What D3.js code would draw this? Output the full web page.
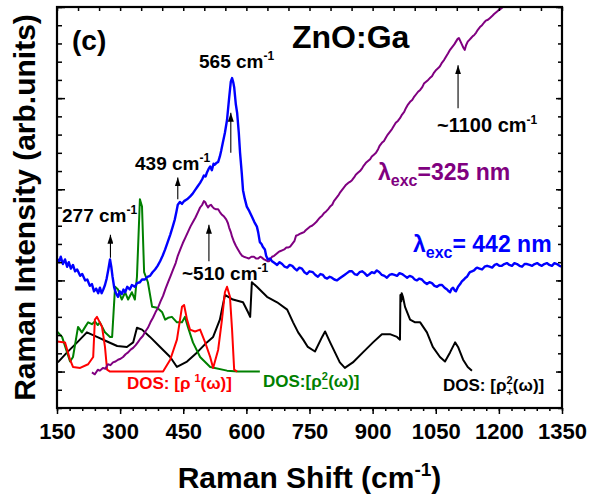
<!DOCTYPE html>
<html>
<head>
<meta charset="utf-8">
<script src="https://cdn.jsdelivr.net/npm/d3@7"></script>
<style>
  body { margin: 0; background: #fff; }
  text { font-family: "Liberation Sans", Arial, sans-serif; font-weight: bold; }
</style>
</head>
<body>
<svg id="chart"></svg>
<script>
// Raman spectra, [shift (cm-1), intensity (arb.)]
const spec442 = [[150,124],[155,120],[159,126],[164,118],[169,123],[174,115],[178,120],[183,113],[188,117],[193,110],[198,112],[205,105],[210,107],[217,100],[222,101],[228,94],[233,96],[238,88],[243,91],[248,86],[252,92],[256,86],[260,90],[264,95],[268,102],[272,112],[276,123],[279,115],[282,104],[286,92],[290,86],[295,82],[299,88],[304,85],[308,90],[312,87],[317,93],[323,90],[328,95],[335,93],[340,97],[347,98],[352,101],[359,101],[365,104],[371,105],[377,109],[383,112],[389,116],[395,121],[401,127],[407,134],[413,142],[419,150],[425,159],[430,167],[434,176],[437,183],[442,186],[447,184],[452,187],[459,189],[466,192],[472,195],[478,199],[484,203],[490,207],[495,211],[499,215],[503,214],[506,218],[510,222],[514,225],[518,221],[522,228],[525,227],[529,229],[533,230],[537,236],[540,242],[544,251],[549,262],[554,276],[559,300],[563,318],[566,322],[569,317],[571,312],[575,293],[578,284],[582,262],[585,240],[589,218],[592,199],[596,190],[601,181],[607,176],[613,170],[619,164],[625,159],[628,153],[632,142],[636,140],[639,137],[644,134],[647,127],[651,123],[656,124],[661,121],[667,119],[673,117],[679,120],[685,118],[691,115],[697,114],[703,117],[709,116],[715,113],[720,111],[726,114],[732,113],[738,109],[744,107],[750,110],[758,109],[764,106],[770,104],[776,107],[782,106],[787,103],[792,102],[798,104],[803,103],[809,101],[815,100],[821,102],[827,104],[833,106],[839,108],[845,110],[851,110],[857,107],[863,106],[869,109],[875,110],[881,108],[887,105],[893,107],[898,109],[904,108],[910,111],[916,109],[922,106],[928,105],[934,103],[940,106],[946,107],[952,106],[958,105],[964,108],[970,107],[976,105],[982,103],[988,105],[994,104],[1000,101],[1005,100],[1011,102],[1017,101],[1023,98],[1029,96],[1035,98],[1041,97],[1047,94],[1053,93],[1059,95],[1065,95],[1071,92],[1077,90],[1081,88],[1084,87],[1088,91],[1091,92],[1095,89],[1098,88],[1103,93],[1108,96],[1112,99],[1117,101],[1121,103],[1124,104],[1128,107],[1131,109],[1136,110],[1141,111],[1145,113],[1148,114],[1154,113],[1160,112],[1166,115],[1172,116],[1178,115],[1184,114],[1190,117],[1195,118],[1201,116],[1207,116],[1213,118],[1219,119],[1225,117],[1231,116],[1237,119],[1243,118],[1249,116],[1255,115],[1261,118],[1267,118],[1273,117],[1279,116],[1285,118],[1291,119],[1297,117],[1302,116],[1308,118],[1314,119],[1320,117],[1326,116],[1332,119],[1338,118],[1344,116],[1350,115]];

const spec325 = [[233,-1],[240,-3],[247,2],[252,1],[259,4],[265,3],[271,8],[277,7],[283,10],[289,11],[295,13],[301,14],[307,16],[313,19],[319,21],[325,24],[331,26],[337,29],[342,32],[348,36],[354,39],[360,44],[366,48],[372,54],[378,59],[384,65],[390,70],[396,77],[402,83],[408,91],[414,98],[420,105],[426,112],[432,119],[437,127],[443,134],[449,141],[455,147],[461,153],[467,159],[473,164],[479,169],[485,175],[490,180],[495,183],[499,187],[502,186],[505,183],[509,180],[512,182],[516,183],[519,181],[523,179],[528,178],[533,178],[537,175],[542,172],[547,170],[552,167],[556,163],[559,158],[563,153],[566,148],[570,143],[575,138],[580,134],[585,130],[590,127],[594,126],[600,125],[606,124],[612,126],[618,126],[623,124],[628,124],[633,126],[637,125],[642,123],[647,122],[651,121],[654,121],[658,124],[661,126],[666,127],[671,129],[676,131],[680,132],[685,133],[690,134],[695,136],[699,136],[704,137],[709,140],[714,143],[718,149],[723,150],[727,151],[732,152],[737,153],[741,155],[746,157],[751,159],[756,160],[761,162],[766,164],[771,167],[775,169],[780,171],[785,174],[790,176],[794,178],[799,181],[804,183],[808,187],[813,190],[818,193],[822,196],[827,199],[832,202],[837,205],[842,207],[846,208],[851,210],[856,213],[860,216],[865,218],[870,220],[875,223],[879,226],[884,229],[889,231],[894,233],[898,236],[903,238],[908,240],[913,244],[917,248],[922,251],[927,253],[932,257],[936,260],[941,263],[946,266],[951,270],[955,273],[960,275],[965,278],[970,282],[975,285],[979,289],[984,293],[989,296],[994,298],[998,301],[1003,304],[1008,307],[1013,309],[1018,312],[1022,316],[1027,318],[1032,320],[1036,322],[1041,324],[1046,328],[1051,331],[1056,333],[1060,335],[1065,339],[1070,342],[1075,346],[1079,349],[1084,353],[1089,356],[1094,359],[1098,362],[1102,365],[1105,366],[1109,362],[1112,359],[1116,355],[1119,353],[1122,358],[1126,362],[1130,364],[1134,366],[1138,368],[1141,369],[1146,372],[1150,375],[1155,378],[1160,380],[1165,383],[1169,385],[1174,386],[1179,388],[1184,390],[1188,392],[1193,394],[1198,396],[1204,398],[1210,400],[1214,403]];

// phonon densities of states
const dosRho1 = [[150,33],[169,32],[181,13],[188,5],[205,4],[224,8],[236,16],[240,57],[245,60],[257,49],[264,27],[269,2],[276,0],[402,0],[419,13],[435,35],[447,71],[452,73],[459,57],[466,46],[478,44],[490,46],[502,32],[514,16],[521,4],[533,24],[542,57],[549,87],[554,93],[561,82],[566,46],[571,2],[578,0]];

const dosRho2Minus = [[150,44],[162,38],[174,21],[181,11],[188,16],[200,49],[209,43],[217,49],[224,54],[233,52],[240,55],[247,51],[252,54],[264,43],[276,38],[281,38],[288,93],[295,90],[304,79],[312,87],[319,79],[328,87],[335,79],[340,104],[347,189],[352,181],[357,109],[366,98],[376,71],[388,70],[400,65],[407,57],[414,59],[423,60],[435,54],[447,54],[454,60],[461,49],[473,32],[490,16],[514,5],[554,1],[580,0],[632,0]];

const dosRho2Plus = [[152,10],[174,21],[198,32],[221,43],[245,38],[269,33],[293,28],[316,27],[331,32],[340,48],[352,46],[371,38],[395,27],[419,16],[435,5],[459,11],[483,21],[506,32],[521,38],[537,57],[549,84],[568,79],[592,76],[604,65],[609,60],[613,98],[625,93],[649,82],[673,76],[697,68],[711,54],[723,43],[735,35],[746,27],[763,22],[780,38],[787,44],[799,32],[822,10],[834,4],[853,10],[877,21],[901,32],[922,41],[941,41],[958,38],[965,35],[966,84],[968,77],[969,86],[972,82],[977,71],[989,57],[1001,54],[1013,54],[1029,43],[1043,27],[1060,16],[1072,11],[1084,21],[1096,32],[1103,27],[1115,13],[1126,5],[1136,1]];

const xMajor = [150, 300, 450, 600, 750, 900, 1050, 1200, 1350];
const xMinor = d3.range(150, 1351, 30);
const xTop = d3.range(150, 1351, 50);
const yMajor = [0, 100, 200, 300, 400];
const yMinor = d3.range(-40, 401, 20);

// peak markers: [shift, arrow base, arrow tip]
const peakArrows = [[277, 125, 150], [437, 189, 213], [563, 240, 284], [511, 121, 161], [1103, 289, 336]];

const width = 593, height = 499;
const margin = {top: 7, right: 31, bottom: 91, left: 57};

const svg = d3.select("#chart").attr("width", width).attr("height", height);

const x = d3.scaleLinear().domain([150, 1350]).range([margin.left, width - margin.right]);
const y = d3.scaleLinear().domain([-40, 400]).range([height - margin.bottom, margin.top]);

svg.append("defs").append("clipPath").attr("id", "clip")
  .append("rect")
  .attr("x", x(150)).attr("y", y(400))
  .attr("width", x(1350) - x(150)).attr("height", y(-40) - y(400));

svg.select("defs").append("marker")
  .attr("id", "head")
  .attr("viewBox", "0 0 10 10")
  .attr("refX", 10).attr("refY", 5)
  .attr("markerUnits", "userSpaceOnUse")
  .attr("markerWidth", 9).attr("markerHeight", 6)
  .attr("preserveAspectRatio", "none")
  .attr("orient", "auto")
  .append("path").attr("d", "M0,0 L10,5 L0,10 z").attr("fill", "#000");

const line = d3.line().x(d => x(d[0])).y(d => y(d[1]));

const curves = svg.append("g").attr("clip-path", "url(#clip)");
const series = [
  [dosRho2Plus, "#000000", 2],
  [dosRho2Minus, "#008000", 2],
  [dosRho1, "#ff0000", 2],
  [spec325, "#800080", 2],
  [spec442, "#0000ff", 2.4]
];
series.forEach(([data, color, w]) => {
  curves.append("path")
    .datum(data)
    .attr("fill", "none")
    .attr("stroke", color)
    .attr("stroke-width", w)
    .attr("stroke-linejoin", "round")
    .attr("d", line);
});

// axes
const bottom = height - margin.bottom;
svg.append("g").attr("transform", `translate(0,${bottom})`)
  .call(d3.axisBottom(x).tickValues(xMinor).tickSize(3).tickFormat(""))
  .call(g => g.select(".domain").remove());
svg.append("g").attr("transform", `translate(0,${bottom})`)
  .call(d3.axisBottom(x).tickValues(xMajor).tickSize(6).tickPadding(9).tickFormat(d3.format("d")))
  .call(g => g.select(".domain").remove())
  .call(g => g.selectAll("text").attr("font-size", 22).attr("fill", "#000")
    .attr("font-family", "Liberation Sans, Arial, sans-serif").attr("font-weight", "bold"));
svg.append("g").attr("transform", `translate(0,${margin.top})`)
  .call(d3.axisTop(x).tickValues(xTop).tickSize(-4).tickFormat(""))
  .call(g => g.select(".domain").remove());
svg.append("g").attr("transform", `translate(${margin.left},0)`)
  .call(d3.axisLeft(y).tickValues(yMinor).tickSize(-5).tickFormat(""))
  .call(g => g.select(".domain").remove());
svg.append("g").attr("transform", `translate(${margin.left},0)`)
  .call(d3.axisLeft(y).tickValues(yMajor).tickSize(-8).tickFormat(""))
  .call(g => g.select(".domain").remove());
svg.append("g").attr("transform", `translate(${width - margin.right},0)`)
  .call(d3.axisRight(y).tickValues(yMinor).tickSize(-4).tickFormat(""))
  .call(g => g.select(".domain").remove());
svg.append("g").attr("transform", `translate(${width - margin.right},0)`)
  .call(d3.axisRight(y).tickValues(yMajor).tickSize(-6).tickFormat(""))
  .call(g => g.select(".domain").remove());
svg.selectAll(".tick line").attr("stroke", "#000").attr("stroke-width", 1.5);

svg.append("rect")
  .attr("x", x(150)).attr("y", y(400))
  .attr("width", x(1350) - x(150)).attr("height", y(-40) - y(400))
  .attr("fill", "none").attr("stroke", "#000").attr("stroke-width", 2.2);

// arrows
peakArrows.forEach(([s, y0, y1]) => {
  svg.append("line")
    .attr("x1", x(s)).attr("x2", x(s))
    .attr("y1", y(y0)).attr("y2", y(y1))
    .attr("stroke", "#000").attr("stroke-width", 1.1)
    .attr("marker-end", "url(#head)");
});

function label(px, py, color, size, parts, extra) {
  const t = svg.append("text").attr("x", px).attr("y", py)
    .attr("fill", color).attr("font-size", size);
  parts.forEach(p => {
    const s = t.append("tspan").text(p.text);
    if (p.size) s.attr("font-size", p.size);
    if (p.dy) s.attr("dy", p.dy);
    if (p.dx) s.attr("dx", p.dx);
  });
  if (extra) extra(t);
  return t;
}

label(72, 50, "#000", 28, [{text: "(c)"}]);
label(292, 48, "#000", 32, [{text: "ZnO:Ga"}]);
label(199, 68, "#000", 19, [{text: "565 cm"}, {text: "-1", size: 12, dy: -8}]);
label(135, 170, "#000", 19, [{text: "439 cm"}, {text: "-1", size: 12, dy: -8}]);
label(62, 222, "#000", 19, [{text: "277 cm"}, {text: "-1", size: 12, dy: -8}]);
label(182, 280, "#000", 19, [{text: "~510 cm"}, {text: "-1", size: 12, dy: -8}]);
label(437, 132, "#000", 20, [{text: "~1100 cm"}, {text: "-1", size: 12, dy: -8}]);

label(378, 180, "#800080", 23, [{text: "λ"}, {text: "exc", size: 16, dy: 6}, {text: "=325 nm", dy: -6}]);
label(413, 252, "#0000ff", 23, [{text: "λ"}, {text: "exc", size: 16, dy: 6}, {text: "= 442 nm", dy: -6}]);

label(127, 389, "#ff0000", 17, [{text: "DOS: [ρ"}, {text: "1", size: 11, dx: 4, dy: -7}, {text: "(ω)]", dy: 7}]);
label(263, 387, "#008000", 17, [{text: "DOS:[ρ"}, {text: "2", size: 11, dy: -7}, {text: "−", size: 11, dx: -6.1, dy: 12}, {text: "(ω)]", dy: -5}]);
label(443, 391, "#000", 17, [{text: "DOS: [ρ"}, {text: "2", size: 11, dy: -7}, {text: "+", size: 11, dx: -6.1, dy: 12}, {text: "(ω)]", dy: -5}]);

// axis titles
label(x(750), 488, "#000", 30, [{text: "Raman Shift (cm"}, {text: "-1", size: 19, dy: -12}, {text: ")", dy: 12}],
  t => t.attr("text-anchor", "middle"));
svg.append("text")
  .attr("transform", `translate(35,${y(180)}) rotate(-90)`)
  .attr("text-anchor", "middle")
  .attr("font-size", 30)
  .attr("fill", "#000")
  .text("Raman Intensity (arb.units)");
</script>
</body>
</html>
